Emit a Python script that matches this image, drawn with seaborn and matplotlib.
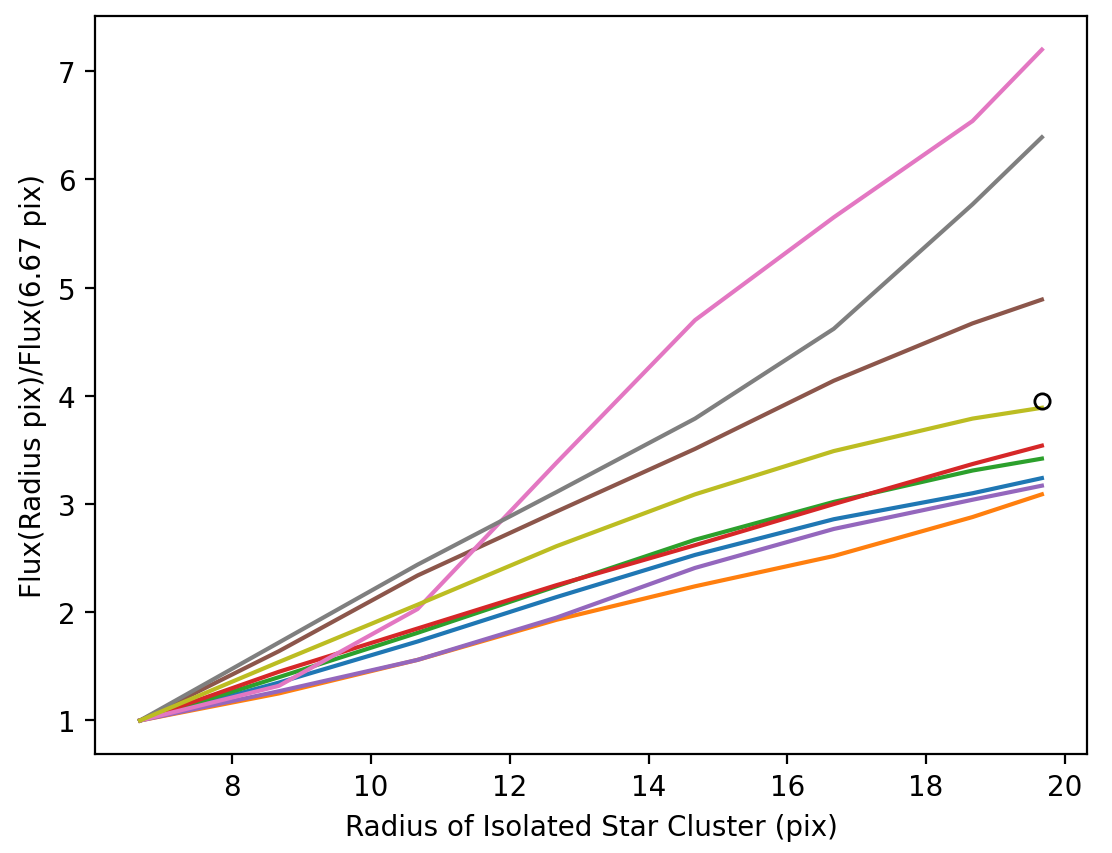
import numpy as np
import pandas as pd
import matplotlib
matplotlib.use("Agg")
import matplotlib.pyplot as plt
import seaborn as sns

radius = [6.67, 8.67, 10.67, 12.67, 14.67, 16.67, 18.67, 19.67]

flux_c0 = [1.00, 1.35, 1.73, 2.14, 2.53, 2.86, 3.10, 3.24]
flux_c1 = [1.00, 1.25, 1.56, 1.93, 2.24, 2.52, 2.88, 3.09]
flux_c2 = [1.00, 1.40, 1.81, 2.24, 2.67, 3.02, 3.31, 3.42]
flux_c3 = [1.00, 1.45, 1.85, 2.25, 2.62, 3.00, 3.37, 3.54]
flux_c4 = [1.00, 1.27, 1.56, 1.95, 2.41, 2.77, 3.04, 3.17]
flux_c5 = [1.00, 1.64, 2.34, 2.93, 3.51, 4.14, 4.67, 4.89]
flux_c6 = [1.00, 1.32, 2.03, 3.38, 4.70, 5.65, 6.54, 7.20]
flux_c7 = [1.00, 1.72, 2.44, 3.11, 3.79, 4.62, 5.77, 6.39]
flux_c8 = [1.00, 1.54, 2.07, 2.61, 3.09, 3.49, 3.79, 3.89]

# the marked point
mark_x = [19.67]
mark_y = [3.95]

all_flux = [flux_c0, flux_c1, flux_c2, flux_c3, flux_c4,
            flux_c5, flux_c6, flux_c7, flux_c8]

frames = []
for i, f in enumerate(all_flux):
    frames.append(pd.DataFrame({'radius': radius, 'flux': f, 'cluster': f'c{i}'}))
df = pd.concat(frames, ignore_index=True)

palette = sns.color_palette('tab10', n_colors=len(all_flux))

DPI = 200
fig = plt.figure(figsize=(1112 / DPI, 854 / DPI), dpi=DPI)
ax = fig.add_axes([0.0854, 0.1159, 0.8921, 0.8641])

sns.lineplot(data=df, x='radius', y='flux', hue='cluster', palette=palette,
             linewidth=1.5, legend=False, ax=ax)
ax.plot(mark_x, mark_y, 'o', mfc='none', mec='k', ms=5.5, mew=1.0)

ax.set_xlabel('Radius of Isolated Star Cluster (pix)')
ax.set_ylabel('Flux(Radius pix)/Flux(6.67 pix)')

plt.savefig('out.png', dpi=DPI)
